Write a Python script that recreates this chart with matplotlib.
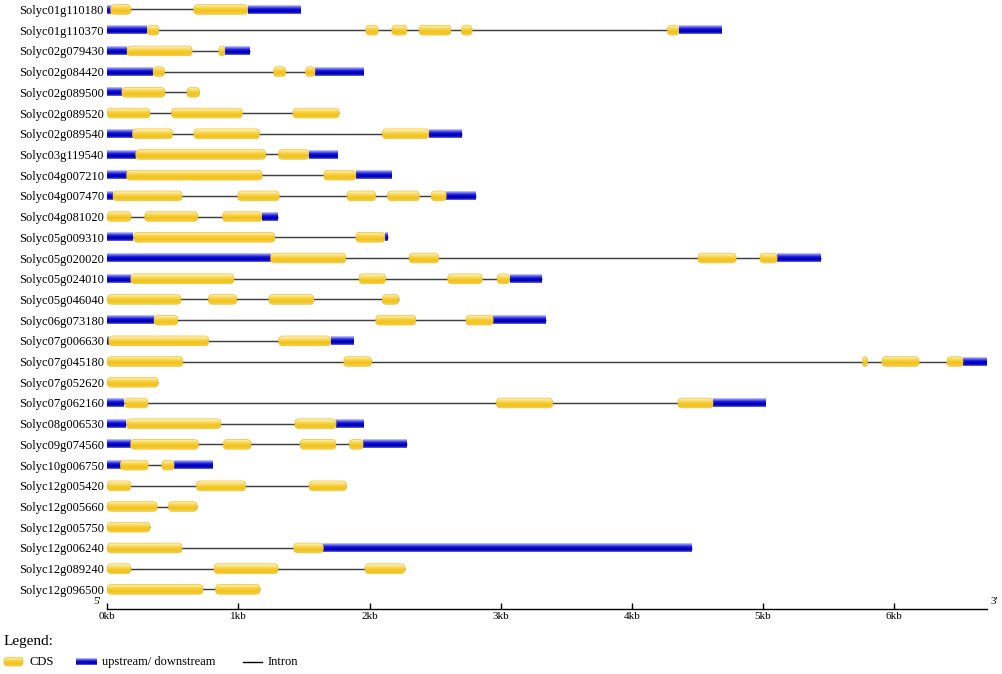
import numpy as np
import matplotlib
matplotlib.use('Agg')
import matplotlib.pyplot as plt
from matplotlib.patches import FancyBboxPatch
from matplotlib.colors import LinearSegmentedColormap

plt.rcParams['font.family'] = ['Liberation Serif', 'DejaVu Serif']

# gene structures, positions in kb from the 5' end
genes = ["Solyc01g110180", "Solyc01g110370", "Solyc02g079430", "Solyc02g084420",
         "Solyc02g089500", "Solyc02g089520", "Solyc02g089540", "Solyc03g119540",
         "Solyc04g007210", "Solyc04g007470", "Solyc04g081020", "Solyc05g009310",
         "Solyc05g020020", "Solyc05g024010", "Solyc05g046040", "Solyc06g073180",
         "Solyc07g006630", "Solyc07g045180", "Solyc07g052620", "Solyc07g062160",
         "Solyc08g006530", "Solyc09g074560", "Solyc10g006750", "Solyc12g005420",
         "Solyc12g005660", "Solyc12g005750", "Solyc12g006240", "Solyc12g089240",
         "Solyc12g096500"]

cds = [
    [(0.025, 0.18), (0.66, 1.07)],
    [(0.305, 0.393), (1.972, 2.066), (2.170, 2.285), (2.379, 2.620), (2.701, 2.783), (4.272, 4.358)],
    [(0.151, 0.647), (0.851, 0.896)],
    [(0.35, 0.436), (1.268, 1.36), (1.512, 1.584)],
    [(0.111, 0.439), (0.609, 0.703)],
    [(0.0, 0.325), (0.49, 1.029), (1.416, 1.768)],
    [(0.192, 0.497), (0.66, 1.161), (2.099, 2.452)],
    [(0.217, 1.207), (1.306, 1.536)],
    [(0.147, 1.181), (1.652, 1.896)],
    [(0.044, 0.569), (0.996, 1.311), (1.83, 2.046), (2.138, 2.379), (2.471, 2.585)],
    [(0.0, 0.179), (0.287, 0.689), (0.88, 1.177)],
    [(0.202, 1.278), (1.896, 2.117)],
    [(1.245, 1.818), (2.303, 2.527), (4.506, 4.796), (4.979, 5.109)],
    [(0.179, 0.965), (1.921, 2.122), (2.597, 2.859), (2.974, 3.068)],
    [(0.0, 0.561), (0.772, 0.986), (1.232, 1.575), (2.099, 2.224)],
    [(0.357, 0.536), (2.048, 2.353), (2.736, 2.943)],
    [(0.011, 0.772), (1.308, 1.703)],
    [(0.0, 0.576), (1.804, 2.015), (5.762, 5.797), (5.909, 6.192), (6.405, 6.527)],
    [(0.0, 0.388)],
    [(0.136, 0.31), (2.970, 3.397), (4.353, 4.620)],
    [(0.147, 0.866), (1.431, 1.745)],
    [(0.177, 0.695), (0.886, 1.095), (1.471, 1.743), (1.847, 1.951)],
    [(0.1, 0.312), (0.416, 0.509)],
    [(0.0, 0.179), (0.68, 1.054), (1.539, 1.824)],
    [(0.0, 0.38), (0.467, 0.685)],
    [(0.0, 0.325)],
    [(0.0, 0.569), (1.423, 1.647)],
    [(0.0, 0.179), (0.814, 1.301), (1.966, 2.270)],
    [(0.0, 0.729), (0.826, 1.164)],
]

utr = [
    [(0.0, 0.025), (1.07, 1.47)],
    [(0.0, 0.30), (4.358, 4.681)],
    [(0.0, 0.147), (0.896, 1.085)],
    [(0.0, 0.35), (1.584, 1.951)],
    [(0.0, 0.111)],
    [],
    [(0.0, 0.192), (2.452, 2.702)],
    [(0.0, 0.215), (1.536, 1.751)],
    [(0.0, 0.147), (1.896, 2.163)],
    [(0.0, 0.044), (2.585, 2.811)],
    [(1.177, 1.299)],
    [(0.0, 0.197), (2.117, 2.138)],
    [(0.0, 1.245), (5.109, 5.444)],
    [(0.0, 0.177), (3.068, 3.312)],
    [],
    [(0.0, 0.355), (2.943, 3.346)],
    [(0.0, 0.011), (1.703, 1.875)],
    [(6.527, 6.710)],
    [],
    [(0.0, 0.129), (4.620, 5.017)],
    [(0.0, 0.141), (1.745, 1.951)],
    [(0.0, 0.177), (1.951, 2.285)],
    [(0.0, 0.1), (0.509, 0.8)],
    [],
    [],
    [],
    [(1.647, 4.460)],
    [],
    [],
]

kb_ticks = [0, 1, 2, 3, 4, 5, 6]
kb_labels = [f"{k}kb" for k in kb_ticks]
axis_len = 6.71

W, H = 1002, 674
px_kb = 131.1
row_px = 20.71
aspect = px_kb / row_px

cds_cmap = LinearSegmentedColormap.from_list('cds', ['#FFF6C8', '#FBE07A', '#F5CB2E', '#F2C21A', '#F7D04A'])
utr_cmap = LinearSegmentedColormap.from_list('utr', ['#D4D4FF', '#6A6AF2', '#1A1AD8', '#0000C0', '#0000B4', '#7070E8'])
grad = np.linspace(0, 1, 64).reshape(-1, 1)

fig = plt.figure(figsize=(W / 100, H / 100), dpi=100)

# overlay in pixel coordinates for the legend
lax = fig.add_axes([0, 0, 1, 1])
lax.set_xlim(0, W)
lax.set_ylim(H, 0)
lax.axis('off')

ax = fig.add_axes([107.3 / W, (H - 609.3) / H, axis_len * px_kb / W, 609.3 / H])
ax.patch.set_visible(False)

cds_h = 0.47
utr_h = 0.39


def cds_box(a, x0, x1, yc, h, asp, r=0.03):
    r = min(r, (x1 - x0) / 2)
    p = FancyBboxPatch((x0, yc - h / 2), x1 - x0, h,
                       boxstyle=f"round,pad=0,rounding_size={r}", mutation_aspect=asp,
                       facecolor='none', edgecolor='#EEC12C', lw=0.5, zorder=3)
    a.add_patch(p)
    im = a.imshow(grad, cmap=cds_cmap, extent=[x0, x1, yc + h / 2, yc - h / 2],
                  aspect='auto', interpolation='bilinear', zorder=2.9)
    im.set_clip_path(p)


def utr_box(a, x0, x1, yc, h):
    a.imshow(grad, cmap=utr_cmap, extent=[x0, x1, yc + h / 2, yc - h / 2],
             aspect='auto', interpolation='bilinear', zorder=2.5)


for i, name in enumerate(genes):
    ends = [e for s, e in cds[i]] + [e for s, e in utr[i]]
    ax.plot([0, max(ends)], [i, i], color='#404040', lw=1.05, zorder=1, solid_capstyle='butt')
    for s, e in utr[i]:
        utr_box(ax, s, e, i, utr_h)
    for s, e in cds[i]:
        cds_box(ax, s, e, i, cds_h, aspect)

ax.set_xlim(0, axis_len)
ax.set_ylim((609.3 - 9.5) / row_px, -9.5 / row_px)

ax.set_yticks(range(len(genes)))
ax.set_yticklabels(genes, fontsize=9)
ax.tick_params(axis='y', length=0, pad=2.4)
ax.set_xticks(kb_ticks)
ax.set_xticklabels(kb_labels, fontsize=8)
ax.tick_params(axis='x', direction='in', length=4, width=1, pad=2.3)
for sp in ['top', 'right', 'left']:
    ax.spines[sp].set_visible(False)
ax.spines['bottom'].set_linewidth(1.0)

fig.text(97.5 / W, 1 - 602 / H, "5'", ha='center', va='center', fontsize=8)
fig.text(994 / W, 1 - 602 / H, "3'", ha='center', va='center', fontsize=8)

# legend
fig.text(4 / W, 1 - 641.7 / H, "Legend:", ha='left', va='center', fontsize=11)
cds_box(lax, 4, 23, 661.7, 8.7, 1.0, r=3.5)
utr_box(lax, 76, 97, 661.7, 6.5)
lax.plot([243, 262], [661.7, 661.7], color='black', lw=1.0)
lax.set_xlim(0, W)
lax.set_ylim(H, 0)
fig.text(29 / W, 1 - 662 / H, "CDS", ha='left', va='center', fontsize=9)
fig.text(102 / W, 1 - 662 / H, "upstream/ downstream", ha='left', va='center', fontsize=9)
fig.text(268 / W, 1 - 662 / H, "Intron", ha='left', va='center', fontsize=9)

fig.savefig('out.png', dpi=100)
